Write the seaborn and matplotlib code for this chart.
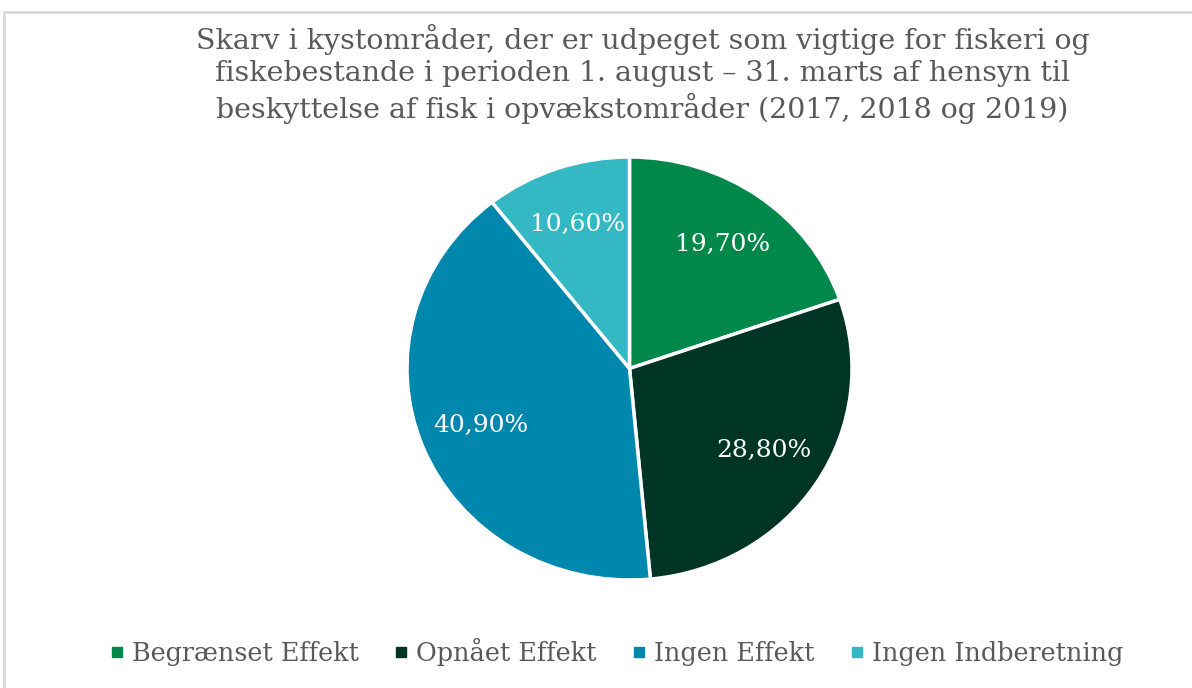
import matplotlib
matplotlib.use("Agg")
import matplotlib.pyplot as plt
import seaborn as sns
from matplotlib.patches import Rectangle
from matplotlib.lines import Line2D

categories = ["Begrænset Effekt", "Opnået Effekt", "Ingen Effekt", "Ingen Indberetning"]
shares = [19.7, 28.8, 40.9, 10.6]
colors = ["#00884A", "#003424", "#0087AD", "#34B8C4"]
title = ("Skarv i kystområder, der er udpeget som vigtige for fiskeri og\n"
         "fiskebestande i perioden 1. august – 31. marts af hensyn til\n"
         "beskyttelse af fisk i opvækstområder (2017, 2018 og 2019)")

sns.set_theme(style="white")
plt.rcParams['font.family'] = ['DejaVu Serif']

fig = plt.figure(figsize=(11.92, 6.88), dpi=100)
fig.patch.set_facecolor("white")

# light grey frame of the chart area
fig.add_artist(Rectangle((4 / 1192, -0.1), 1.2, (688 - 12) / 688 + 0.1,
                         transform=fig.transFigure, fill=False,
                         edgecolor="#D9D9D9", linewidth=2))

# pie box: slightly wider than tall, like the original
cx, cy, rx, ry = 629.5, 368.5, 222.5, 211.5
ax = fig.add_axes([(cx - rx) / 1192, (688 - cy - ry) / 688, 2 * rx / 1192, 2 * ry / 688])
wedges, texts, autotexts = ax.pie(
    shares, colors=colors, startangle=90, counterclock=False,
    autopct=lambda p: f"{p:.2f}%".replace(".", ","), pctdistance=0.72,
    wedgeprops=dict(edgecolor="white", linewidth=2.5),
    textprops=dict(color="white", fontsize=18))
ax.set_aspect("auto")
ax.set_xlim(-1, 1)
ax.set_ylim(-1, 1)

fig.text(0.539, 1 - 74 / 688, title, ha="center", va="center",
         fontsize=20.5, color="#595959", linespacing=1.22)

handles = [Line2D([], [], marker="s", linestyle="", markersize=7,
                  markerfacecolor=c, markeredgecolor=c) for c in colors]
fig.legend(handles, categories, loc="center", bbox_to_anchor=(0.515, 1 - 652 / 688),
           ncol=4, frameon=False, fontsize=18.4, labelcolor="#595959",
           handletextpad=0.1, columnspacing=1.15, handlelength=1)

fig.savefig("out.png", dpi=100, facecolor="white")
